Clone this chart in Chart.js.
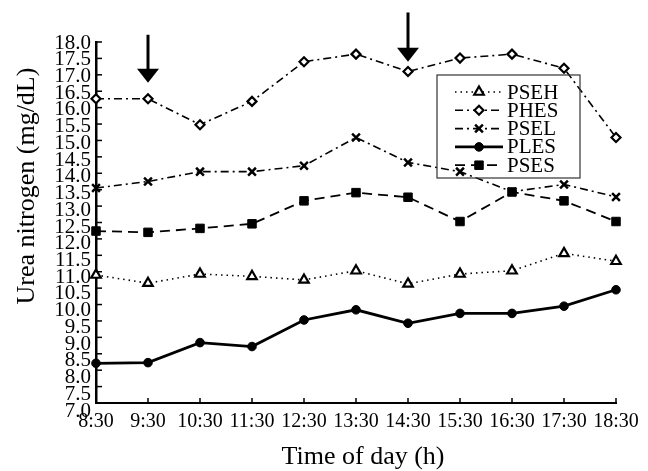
<!DOCTYPE html>
<html>
<head>
<meta charset="utf-8">
<script src="https://cdn.jsdelivr.net/npm/chart.js@4.4.1/dist/chart.umd.min.js"></script>
<style>
  html, body { margin: 0; padding: 0; background: #fff; }
  #wrap { width: 648px; height: 471px; }
</style>
</head>
<body>
<div id="wrap"><canvas id="ureaChart" width="648" height="471"></canvas></div>
<script>
// data
const times = ['8:30', '9:30', '10:30', '11:30', '12:30', '13:30', '14:30', '15:30', '16:30', '17:30', '18:30'];
const pseh = [10.9, 10.65, 10.93, 10.86, 10.75, 11.03, 10.63, 10.93, 11.03, 11.56, 11.32];
const phes = [16.27, 16.27, 15.48, 16.19, 17.4, 17.63, 17.1, 17.51, 17.63, 17.2, 15.09];
const psel = [13.55, 13.75, 14.05, 14.05, 14.23, 15.09, 14.33, 14.05, 13.44, 13.66, 13.28];
const ples = [8.21, 8.23, 8.84, 8.72, 9.53, 9.84, 9.43, 9.73, 9.73, 9.95, 10.45];
const pses = [12.24, 12.2, 12.32, 12.46, 13.16, 13.41, 13.27, 12.53, 13.43, 13.16, 12.53];

const yMin = 7, yMax = 18, yStep = 0.5;

// the two arrows above the curves
const arrowAt = ['9:30', '14:30'];
const arrowTop = [18.22, 18.9];
const arrowTip = [16.76, 17.4];

const serif = "'Liberation Serif', 'Times New Roman', serif";

function drawMarker(ctx, ds, x, y) {
    ctx.save();
    ctx.setLineDash([]);
    ctx.fillStyle = ds.pointBackgroundColor;
    ctx.strokeStyle = '#000';
    ctx.lineWidth = ds.pointBorderWidth;
    if (Chart.helpers && Chart.helpers.drawPoint) {
        Chart.helpers.drawPoint(ctx, {
            pointStyle: ds.pointStyle,
            radius: ds.pointRadius,
            rotation: 0,
            borderWidth: ds.pointBorderWidth
        }, x, y);
    }
    ctx.restore();
}

const extras = {
    id: 'extras',
    afterDraw(chart) {
        const ctx = chart.ctx;
        const xs = chart.scales.x, ys = chart.scales.y;
        const area = chart.chartArea;
        ctx.save();
        ctx.strokeStyle = '#000';
        ctx.fillStyle = '#000';

        // inward tick marks + y labels (labels creep down a little, as in the print)
        ctx.lineWidth = 1.5;
        ctx.font = '21px ' + serif;
        ctx.textAlign = 'right';
        ctx.textBaseline = 'middle';
        ys.ticks.forEach(t => {
            const y = ys.getPixelForValue(t.value);
            ctx.beginPath();
            ctx.moveTo(area.left, y);
            ctx.lineTo(area.left + 6, y);
            ctx.stroke();
            const drift = (yMax - t.value) / (yMax - yMin) * 7;
            ctx.fillText(t.value.toFixed(1), area.left - 5, y + drift + 1);
        });
        times.forEach((t, i) => {
            const x = xs.getPixelForValue(i);
            ctx.beginPath();
            ctx.moveTo(x, area.bottom);
            ctx.lineTo(x, area.bottom - 5);
            ctx.stroke();
        });

        // arrows
        arrowAt.forEach((t, i) => {
            const x = xs.getPixelForValue(times.indexOf(t));
            const top = ys.getPixelForValue(arrowTop[i]);
            const tip = ys.getPixelForValue(arrowTip[i]);
            ctx.lineWidth = 3;
            ctx.beginPath();
            ctx.moveTo(x, top);
            ctx.lineTo(x, tip - 12);
            ctx.stroke();
            ctx.beginPath();
            ctx.moveTo(x - 11, tip - 14);
            ctx.lineTo(x + 11, tip - 14);
            ctx.lineTo(x, tip);
            ctx.closePath();
            ctx.fill();
        });

        // axis titles
        ctx.font = '26px ' + serif;
        ctx.textAlign = 'center';
        ctx.textBaseline = 'alphabetic';
        ctx.fillText('Time of day (h)', 363, 464);
        ctx.save();
        ctx.translate(34, 186);
        ctx.rotate(-Math.PI / 2);
        ctx.fillText('Urea nitrogen (mg/dL)', 0, 0);
        ctx.restore();

        // legend box
        const box = { left: 437, top: 75, right: 580, bottom: 178 };
        ctx.lineWidth = 1.2;
        ctx.strokeStyle = '#333';
        ctx.strokeRect(box.left, box.top, box.right - box.left, box.bottom - box.top);
        ctx.strokeStyle = '#000';
        ctx.font = '21px ' + serif;
        ctx.textAlign = 'left';
        ctx.textBaseline = 'middle';
        chart.data.datasets.forEach((ds, i) => {
            const y = 92 + i * 18.3;
            ctx.save();
            ctx.lineWidth = ds.borderWidth;
            ctx.setLineDash(ds.borderDash || []);
            ctx.beginPath();
            ctx.moveTo(455, y);
            ctx.lineTo(503, y);
            ctx.stroke();
            ctx.restore();
            drawMarker(ctx, ds, 479, y);
            ctx.fillText(ds.label, 507, y + 1);
        });
        ctx.restore();
    }
};

new Chart(document.getElementById('ureaChart'), {
    type: 'line',
    data: {
        labels: times,
        datasets: [
            {
                label: 'PSEH', data: pseh,
                borderColor: '#000', borderWidth: 1.6, borderDash: [1.5, 4],
                pointStyle: 'triangle', pointRadius: 5.5, pointBorderWidth: 2.2,
                pointBackgroundColor: '#fff', pointBorderColor: '#000'
            },
            {
                label: 'PHES', data: phes,
                borderColor: '#000', borderWidth: 1.6, borderDash: [8, 4, 2, 4],
                pointStyle: 'rectRot', pointRadius: 4.5, pointBorderWidth: 2.2,
                pointBackgroundColor: '#fff', pointBorderColor: '#000'
            },
            {
                label: 'PSEL', data: psel,
                borderColor: '#000', borderWidth: 1.6, borderDash: [8, 4, 2, 4],
                pointStyle: 'crossRot', pointRadius: 5.5, pointBorderWidth: 2.5,
                pointBackgroundColor: '#000', pointBorderColor: '#000'
            },
            {
                label: 'PLES', data: ples,
                borderColor: '#000', borderWidth: 2.8,
                pointStyle: 'circle', pointRadius: 4.3, pointBorderWidth: 1,
                pointBackgroundColor: '#000', pointBorderColor: '#000'
            },
            {
                label: 'PSES', data: pses,
                borderColor: '#000', borderWidth: 1.8, borderDash: [10, 6],
                pointStyle: 'rect', pointRadius: 6, pointBorderWidth: 1,
                pointBackgroundColor: '#000', pointBorderColor: '#000'
            }
        ]
    },
    options: {
        responsive: false,
        animation: false,
        devicePixelRatio: 1,
        datasets: { line: { tension: 0, fill: false, clip: false } },
        layout: { padding: { top: 42, right: 32, left: 0, bottom: 0 } },
        plugins: {
            legend: { display: false },
            tooltip: { enabled: false }
        },
        scales: {
            x: {
                offset: false,
                grid: { display: false, drawTicks: false },
                border: { display: true, color: '#000', width: 2 },
                ticks: {
                    color: '#000', padding: 7, maxRotation: 0, autoSkip: false,
                    font: { family: serif, size: 20 }
                },
                afterFit(scale) { scale.height = 68; }
            },
            y: {
                min: yMin, max: yMax,
                grid: { display: false, drawTicks: false },
                border: { display: true, color: '#000', width: 2.5 },
                ticks: { stepSize: yStep, autoSkip: false, display: false },
                afterFit(scale) { scale.width = 96; }
            }
        }
    },
    plugins: [extras]
});
</script>
</body>
</html>
